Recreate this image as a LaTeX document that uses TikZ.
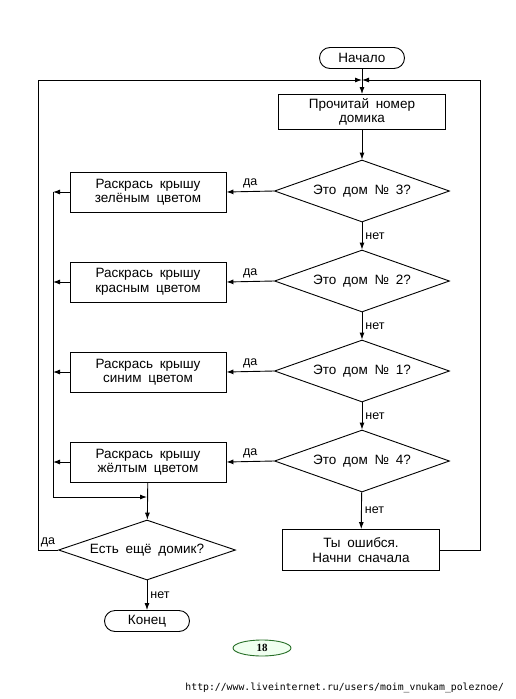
\documentclass[tikz,border=0pt]{standalone}
\usepackage{fontspec}
\setmainfont{Liberation Sans}[WordSpace=1.8]
\newfontfamily\pagefont{Liberation Serif}
\newfontfamily\urlfont{DejaVu Sans Mono}
\usetikzlibrary{arrows.meta,shapes.geometric}

\begin{document}
\begin{tikzpicture}[x=1pt, y=-1pt, line width=0.9pt,
    >={Latex[length=7pt,width=5pt]},
    every node/.style={font=\fontsize{13.5}{14.5}\selectfont, align=center},
    term/.style={draw, rounded corners=10.5pt, minimum width=85pt, minimum height=21pt, inner sep=0pt},
    act/.style={draw, minimum width=156pt, minimum height=40pt, inner sep=0pt},
    ask/.style={draw, diamond, aspect=2.8, minimum width=175pt, minimum height=62pt, inner sep=0pt},
    lbl/.style={font=\fontsize{12.5}{13}\selectfont, inner sep=3pt}]
    %%%%% START %%%%%

    \useasboundingbox (0,0) rectangle (515,699);

    \node[term] (start) at (362,58) {Начало};
    \node[act, minimum width=167pt, minimum height=35pt] (read) at (362,112) {Прочитай номер\\домика};

    \node[ask] (q3) at (362,191) {Это дом № 3?};
    \node[ask] (q2) at (362,281) {Это дом № 2?};
    \node[ask] (q1) at (362,371) {Это дом № 1?};
    \node[ask] (q4) at (362,461) {Это дом № 4?};

    \node[act] (green) at (148,192) {Раскрась крышу\\зелёным цветом};
    \node[act] (red) at (148,282) {Раскрась крышу\\красным цветом};
    \node[act] (blue) at (148,372) {Раскрась крышу\\синим цветом};
    \node[act] (yellow) at (148,462) {Раскрась крышу\\жёлтым цветом};

    \node[act, minimum width=157pt, minimum height=41pt] (err) at (361,550) {Ты ошибся.\\Начни сначала};
    \node[ask, minimum width=177pt, minimum height=60pt] (more) at (147,550) {Есть ещё домик?};
    \node[term] (stop) at (147,621) {Конец};

    \coordinate (join) at (362,80);
    \coordinate (outl) at (38,80);
    \coordinate (outr) at (480,80);
    \coordinate (inl) at (53,497);
    \coordinate (merge) at (147,497);

    % main column
    \draw[->] (start) -- (read);
    \draw[->] (read) -- (q3);
    \draw[->] (q3) -- node[lbl, right] {нет} (q2);
    \draw[->] (q2) -- node[lbl, right] {нет} (q1);
    \draw[->] (q1) -- node[lbl, right] {нет} (q4);
    \draw[->] (q4) -- node[lbl, right] {нет} (err);

    % yes branches
    \foreach \q/\b in {q3/green, q2/red, q1/blue, q4/yellow} {
        \draw[->] (\q.west) -- node[lbl, above] {да} (\b.east);
        \draw[->] (\b.west) -- (\b.west -| inl);
    }
    \draw[->] (green.west -| inl) -- (inl) -- (merge);
    \draw[->] (yellow) -- (more);
    \draw[->] (more) -- node[lbl, right] {нет} (stop);

    % loops back to the top
    \draw[->] (err.east) -| (outr) -- (join);
    \draw[->] (more.west) -- node[lbl, above] {да} (more.west -| outl) -- (outl) -- (join);

    \node[draw=black!60!green!70!gray, fill=green!6, ellipse, minimum width=58pt, minimum height=16pt, inner sep=0pt] (page) at (262,648) {\pagefont\bfseries\fontsize{11}{12}\selectfont 18};
    \node[anchor=west, inner sep=0pt, font=\urlfont\fontsize{9.8}{10}\selectfont] (url) at (185,688) {http://www.liveinternet.ru/users/moim\_vnukam\_poleznoe/};

    %%%%% END %%%%%
\end{tikzpicture}
\end{document}
